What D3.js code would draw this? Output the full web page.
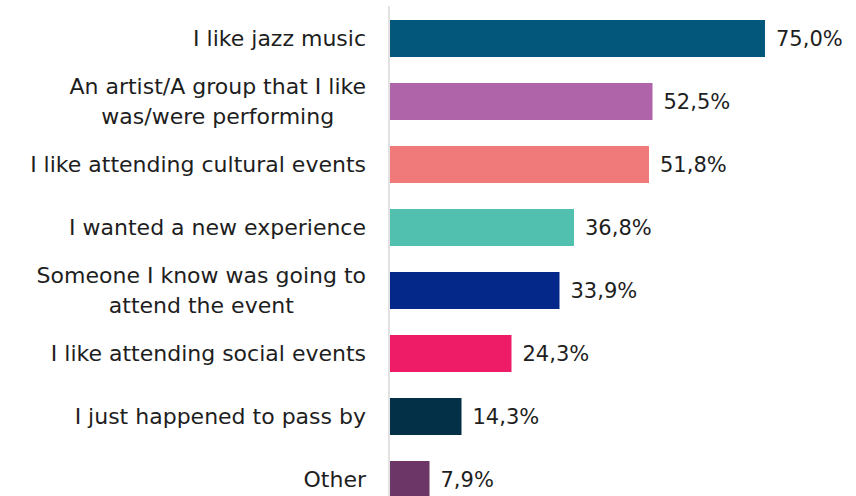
<!DOCTYPE html>
<html>
<head>
<meta charset="utf-8">
<script src="https://cdn.jsdelivr.net/npm/d3@7"></script>
<style>
  html, body { margin: 0; padding: 0; background: #fff; }
  svg { display: block; }
  text { font-family: "Century Gothic", "DejaVu Sans", sans-serif; fill: #1e1e1e; }
</style>
</head>
<body>
<svg id="chart" width="856" height="496"></svg>
<script>
// Reasons for attending (share of respondents, %)
const categories = [
  ["I like jazz music"],
  ["An artist/A group that I like", "was/were performing"],
  ["I like attending cultural events"],
  ["I wanted a new experience"],
  ["Someone I know was going to", "attend the event"],
  ["I like attending social events"],
  ["I just happened to pass by"],
  ["Other"]
];
const values = [75.0, 52.5, 51.8, 36.8, 33.9, 24.3, 14.3, 7.9];
const valueLabels = ["75,0%", "52,5%", "51,8%", "36,8%", "33,9%", "24,3%", "14,3%", "7,9%"];
const colors = ["#03577A", "#AF64A9", "#F07979", "#52C0AE", "#042889", "#EE1C67", "#033047", "#6C3767"];

const svg = d3.select("#chart");
const axisX = 389;
const labelRight = 366;

const x = d3.scaleLinear().domain([0, 100]).range([axisX + 1, axisX + 501]);
const y = d3.scaleBand()
  .domain(d3.range(values.length))
  .range([-11.5, 529.5])
  .paddingInner(0.4127)
  .paddingOuter(0.5);

// bars
svg.append("g").selectAll("rect")
  .data(values)
  .join("rect")
  .attr("x", x(0))
  .attr("y", (d, i) => y(i))
  .attr("width", d => x(d) - x(0))
  .attr("height", y.bandwidth())
  .attr("fill", (d, i) => colors[i]);

// category axis line
svg.append("line")
  .attr("x1", axisX).attr("x2", axisX)
  .attr("y1", 6).attr("y2", 496)
  .attr("stroke", "#d9d9d9").attr("stroke-width", 1.5);

// category labels: each wrapped label is a centred block, right-aligned to the axis
const lineH = 30;
const lab = svg.append("g").selectAll("text")
  .data(categories)
  .join("text")
  .attr("text-anchor", "middle")
  .attr("font-size", 22)
  .attr("transform", (d, i) => `translate(0,${y(i) + y.bandwidth() / 2})`);
lab.selectAll("tspan")
  .data(d => d.map((t, k) => ({ t, k, n: d.length })))
  .join("tspan")
  .attr("y", d => (d.k - (d.n - 1) / 2) * lineH)
  .attr("dy", "0.35em")
  .text(d => d.t);
lab.each(function () {
  const spans = d3.select(this).selectAll("tspan");
  const maxW = d3.max(spans.nodes(), n => n.getComputedTextLength());
  spans.attr("x", labelRight - maxW / 2);
});

// value labels
svg.append("g").selectAll("text")
  .data(values)
  .join("text")
  .attr("x", d => x(d) + 11)
  .attr("y", (d, i) => y(i) + y.bandwidth() / 2)
  .attr("dy", "0.35em")
  .attr("font-size", 21)
  .text((d, i) => valueLabels[i]);
</script>
</body>
</html>
